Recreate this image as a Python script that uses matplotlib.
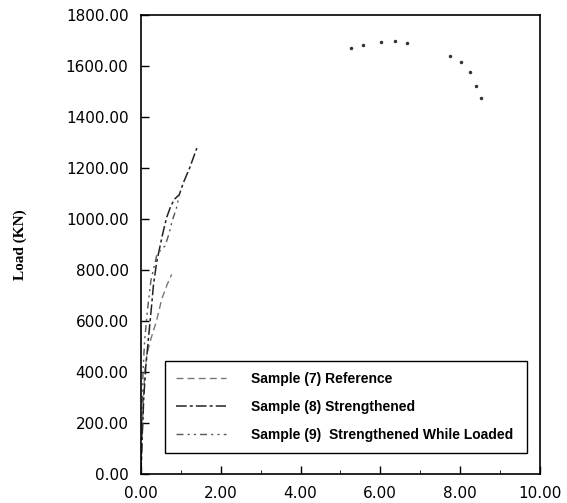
import numpy as np
import matplotlib.pyplot as plt

# load - deflection readings (deflection in mm, load in kN)
s7_x = [0.00, 0.03, 0.06, 0.10, 0.15, 0.25, 0.39, 0.52, 0.65, 0.77]
s7_y = [0, 150, 300, 410, 470, 530, 600, 685, 740, 782]

s8_x = [0.00, 0.03, 0.07, 0.12, 0.18, 0.26, 0.31, 0.39, 0.53, 0.64, 0.73, 0.83, 0.96, 1.06, 1.22, 1.40]
s8_y = [0, 150, 300, 420, 520, 650, 737, 828, 932, 1004, 1043, 1076, 1095, 1141, 1200, 1278]

s9_x = [0.00, 0.02, 0.05, 0.09, 0.16, 0.25, 0.39, 0.50, 0.60, 0.70, 0.78, 0.89, 0.96]
s9_y = [0, 200, 400, 520, 640, 760, 854, 880, 893, 940, 991, 1043, 1095]

# late readings of the last sample near failure
s9_top_x = [5.26, 5.57, 6.03, 6.36, 6.68, 7.74, 8.03, 8.25, 8.40, 8.53]
s9_top_y = [1669, 1682, 1695, 1698, 1691, 1640, 1615, 1578, 1523, 1474]

labels = ['Sample (7) Reference', 'Sample (8) Strengthened',
          'Sample (9)  Strengthened While Loaded']

fig = plt.figure(figsize=(5.67, 5.03), dpi=100)
ax = fig.add_axes([0.2487, 0.0585, 0.7033, 0.9115])

ax.plot(s7_x, s7_y, color='#777777', lw=1.0, ls=(0, (5, 3)), label=labels[0])
ax.plot(s8_x, s8_y, color='#222222', lw=1.1, ls=(0, (7, 2, 2, 2)), label=labels[1])
ax.plot(s9_x, s9_y, color='#555555', lw=1.0, ls=(0, (5, 3, 1.5, 3, 1.5, 3)), label=labels[2])
ax.plot(s9_top_x, s9_top_y, color='#333333', ls='none', marker='.', markersize=3)

ax.set_xlim(0, 10)
ax.set_ylim(0, 1800)
ax.set_xticks(np.arange(0, 11, 2))
ax.set_xticks(np.arange(1, 10, 2), minor=True)
ax.set_yticks(np.arange(0, 1801, 200))
ax.set_xticklabels([f'{v:.2f}' for v in np.arange(0, 11, 2)])
ax.set_yticklabels([f'{v:.2f}' for v in np.arange(0, 1801, 200)])
ax.tick_params(direction='in', length=6, width=1, labelsize=11, pad=9)
ax.tick_params(which='minor', direction='in', length=3)
for s in ax.spines.values():
    s.set_linewidth(1.2)

ax.set_ylabel('Load (KN)', fontfamily='Liberation Serif', fontweight='bold',
              fontsize=11, labelpad=28)

leg = ax.legend(loc='lower left', bbox_to_anchor=(0.06, 0.045, 0.907, 0.19),
                mode='expand', borderaxespad=0, fancybox=False, edgecolor='black',
                prop={'family': 'Liberation Sans', 'weight': 'bold', 'size': 10},
                handlelength=3.6, handletextpad=1.8, borderpad=0.8,
                labelspacing=1.0, framealpha=1)
leg.get_frame().set_linewidth(1.0)

fig.savefig('out.png', dpi=100)
